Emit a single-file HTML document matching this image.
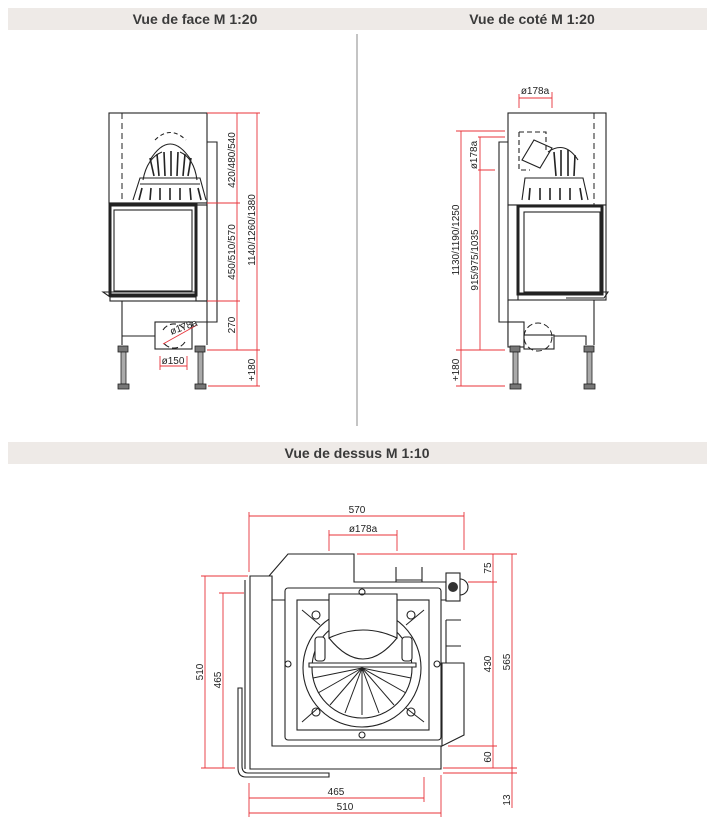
<!DOCTYPE html>
<html><head><meta charset="utf-8"><style>
html,body{margin:0;padding:0;background:#fff;width:715px;height:828px;overflow:hidden}
svg{display:block}
.t{font-family:"Liberation Sans",sans-serif;font-weight:bold;font-size:14px;fill:#3a3a3a}
.d{font-family:"Liberation Sans",sans-serif;font-size:10px;fill:#222}
.k{stroke:#222;stroke-width:1.1;fill:none}
.kw{stroke:#222;stroke-width:1.1;fill:#fff}
.r{stroke:#e8333a;stroke-width:0.9;fill:none}
</style></head><body>
<svg width="715" height="828" viewBox="0 0 715 828" xmlns="http://www.w3.org/2000/svg">
<rect x="8" y="8" width="699" height="22" fill="#eeeae7"/>
<text class="t" x="195" y="24" text-anchor="middle">Vue de face M 1:20</text>
<text class="t" x="532" y="24" text-anchor="middle">Vue de coté M 1:20</text>
<line x1="357" y1="34" x2="357" y2="426" stroke="#888" stroke-width="1"/>
<rect x="8" y="442" width="699" height="22" fill="#eeeae7"/>
<text class="t" x="357" y="458" text-anchor="middle">Vue de dessus M 1:10</text>

<!-- FRONT VIEW -->
<g>
<rect class="k" x="109" y="113" width="98" height="90"/>
<line x1="122" y1="113" x2="122" y2="203" stroke="#222" stroke-dasharray="6,4"/>
<g class="k" stroke-width="1.2">
<path d="M150 160 Q170 128 191 160"/>
<path d="M155 140 Q170 125 186 140" stroke-dasharray="4,3"/>
<path d="M143 180 Q147 158 162 152 M197 180 Q194 158 180 152"/>
<path d="M133 200 L140 178 L200 178 L206 200"/>
<path d="M140 184 L200 184"/>
</g>
<g stroke="#222" stroke-width="1.6">
<line x1="150" y1="158" x2="154" y2="176"/><line x1="157" y1="154" x2="159" y2="176"/><line x1="164" y1="152" x2="165" y2="176"/><line x1="171" y1="151" x2="171" y2="176"/><line x1="178" y1="152" x2="177" y2="176"/><line x1="185" y1="154" x2="183" y2="176"/><line x1="191" y1="158" x2="188" y2="176"/>
<line x1="142" y1="188" x2="139" y2="200"/><line x1="151" y1="188" x2="150" y2="200"/><line x1="160" y1="188" x2="160" y2="200"/><line x1="170" y1="188" x2="170" y2="200"/><line x1="180" y1="188" x2="180" y2="200"/><line x1="190" y1="188" x2="191" y2="200"/><line x1="198" y1="188" x2="201" y2="200"/>
</g>
<rect class="kw" x="110" y="203" width="97" height="98"/>
<rect x="110" y="205" width="86" height="90" fill="none" stroke="#222" stroke-width="3"/>
<rect class="k" x="114" y="210" width="78" height="81"/>
<rect class="k" x="196" y="205" width="11" height="96"/>
<path class="k" d="M103 292 L196 292 L196 297 L110 297 Z"/>
<path class="k" d="M207 142 L217 142 L217 322 L196 322"/>
<path class="k" d="M122 301 L122 345 M207 301 L207 345"/>
<path class="k" d="M122 336 L155 336"/>
<rect class="kw" x="155" y="322" width="37" height="27"/>
<path class="k" d="M163 330 A13 13 0 0 1 185 330 M185 342 A13 13 0 0 1 163 342" stroke-dasharray="6,3"/>
<line class="r" x1="163" y1="344" x2="197" y2="325"/>
<text class="d" x="170" y="333" transform="rotate(-20 176 330)">ø178a</text>
<g fill="#777" stroke="#222" stroke-width="0.8">
<rect x="118" y="346" width="10" height="6"/><rect x="121" y="352" width="5" height="32" fill="#aaa"/><rect x="118" y="384" width="11" height="5"/>
<rect x="195" y="346" width="10" height="6"/><rect x="198" y="352" width="5" height="32" fill="#aaa"/><rect x="195" y="384" width="11" height="5"/>
</g>
<path class="r" d="M160 356 L160 370 M187 356 L187 370 M160 366 L187 366"/>
<text class="d" x="173" y="364" text-anchor="middle">ø150</text>
<path class="r" d="M207 113 L260 113 M207 203 L240 203 M207 301 L240 301 M207 350 L260 350 M208 386 L260 386 M237 113 L237 350 M257 113 L257 386"/>
<text class="d" transform="translate(235 160) rotate(-90)" text-anchor="middle">420/480/540</text>
<text class="d" transform="translate(235 252) rotate(-90)" text-anchor="middle">450/510/570</text>
<text class="d" transform="translate(235 325) rotate(-90)" text-anchor="middle">270</text>
<text class="d" transform="translate(255 230) rotate(-90)" text-anchor="middle">1140/1260/1380</text>
<text class="d" transform="translate(255 370) rotate(-90)" text-anchor="middle">+180</text>
</g>

<!-- SIDE VIEW -->
<g>
<rect class="k" x="508" y="113" width="98" height="92"/>
<line x1="594" y1="113" x2="594" y2="205" stroke="#222" stroke-dasharray="6,4"/>
<path class="k" d="M519 132 L546 132 L546 150 M519 132 L519 170 L530 170" stroke-dasharray="5,3"/>
<path class="k" d="M534 140 L552 148 L540 168 L522 160 Z"/>
<g class="k" stroke-width="1.2">
<path d="M548 152 Q565 140 578 160"/>
<path d="M522 200 L525 178 L583 178 L588 200"/>
</g>
<g stroke="#222" stroke-width="1.6">
<line x1="554" y1="152" x2="556" y2="176"/><line x1="561" y1="150" x2="561" y2="176"/><line x1="568" y1="150" x2="568" y2="176"/><line x1="575" y1="155" x2="574" y2="176"/>
<line x1="530" y1="188" x2="529" y2="200"/><line x1="540" y1="188" x2="540" y2="200"/><line x1="550" y1="188" x2="550" y2="200"/><line x1="560" y1="188" x2="560" y2="200"/><line x1="570" y1="188" x2="570" y2="200"/><line x1="580" y1="188" x2="582" y2="200"/>
</g>
<rect class="kw" x="508" y="205" width="98" height="95"/>
<rect x="518" y="206" width="84" height="88" fill="none" stroke="#222" stroke-width="3"/>
<rect class="k" x="524" y="212" width="76" height="80"/>
<path class="k" d="M508 205 L518 205 L518 300"/>
<path class="k" d="M566 292 L608 292 L604 298 L566 298"/>
<path class="k" d="M508 142 L499 142 L499 322 L508 322"/>
<path class="k" d="M508 300 L508 345 M594 300 L594 345"/>
<rect class="kw" x="508" y="322" width="16" height="25"/>
<rect class="kw" x="524" y="335" width="30" height="14"/>
<circle cx="538" cy="337" r="14" fill="none" stroke="#222" stroke-dasharray="6,3"/>
<path class="k" d="M554 336 L586 336 L586 345"/>
<g fill="#777" stroke="#222" stroke-width="0.8">
<rect x="510" y="346" width="10" height="6"/><rect x="513" y="352" width="5" height="32" fill="#aaa"/><rect x="510" y="384" width="11" height="5"/>
<rect x="584" y="346" width="10" height="6"/><rect x="587" y="352" width="5" height="32" fill="#aaa"/><rect x="584" y="384" width="11" height="5"/>
</g>
<path class="r" d="M519 94 L519 108 M552 92 L552 108 M519 98 L552 98"/>
<text class="d" x="535" y="94" text-anchor="middle">ø178a</text>
<path class="r" d="M456 131 L505 131 M478 137 L505 137 M478 170 L495 170 M456 350 L505 350 M478 350 L478 350 M456 386 L505 386 M461 131 L461 386 M480 137 L480 350"/>
<text class="d" transform="translate(477 155) rotate(-90)" text-anchor="middle">ø178a</text>
<text class="d" transform="translate(459 240) rotate(-90)" text-anchor="middle">1130/1190/1250</text>
<text class="d" transform="translate(478 260) rotate(-90)" text-anchor="middle">915/975/1035</text>
<text class="d" transform="translate(459 370) rotate(-90)" text-anchor="middle">+180</text>
</g>

<!-- TOP VIEW -->
<g>
<path class="r" d="M249 516 L464 516 M249 512 L249 572 M464 512 L464 550 M329 535 L397 535 M329 530 L329 551 M397 530 L397 551"/>
<text class="d" x="357" y="513" text-anchor="middle">570</text>
<text class="d" x="363" y="532" text-anchor="middle">ø178a</text>
<!-- hood -->
<path class="kw" d="M269 576 L288 554 L354 554 L354 582 L446 582 L446 600 L272 600 L272 576 Z"/>
<!-- main L frame -->
<path class="kw" d="M250 576 L272 576 L272 746 L441 746 L441 769 L250 769 Z"/>
<path class="k" d="M245 580 L245 769"/>
<rect class="kw" x="285" y="588" width="156" height="152" rx="3"/>
<rect class="k" x="297" y="600" width="132" height="130"/>
<circle class="k" cx="362" cy="668" r="59"/>
<circle class="k" cx="362" cy="668" r="50"/>
<g stroke="#222" stroke-width="1">
<line x1="362" y1="668" x2="362" y2="715"/><line x1="362" y1="668" x2="345" y2="713"/><line x1="362" y1="668" x2="379" y2="713"/><line x1="362" y1="668" x2="330" y2="705"/><line x1="362" y1="668" x2="394" y2="705"/><line x1="362" y1="668" x2="318" y2="693"/><line x1="362" y1="668" x2="406" y2="693"/><line x1="362" y1="668" x2="313" y2="678"/><line x1="362" y1="668" x2="411" y2="678"/>
<line x1="302" y1="610" x2="320" y2="625"/><line x1="424" y1="610" x2="406" y2="625"/><line x1="302" y1="722" x2="318" y2="708"/><line x1="424" y1="722" x2="406" y2="708"/>
</g>
<path class="kw" d="M309 663 L416 663 L416 667 L309 667 Z"/>
<path class="kw" d="M329 594 L397 594 L397 638 Q363 622 329 638 Z"/>
<path class="k" d="M329 638 Q363 680 397 638"/>
<rect class="kw" x="315" y="637" width="10" height="24" rx="3"/>
<rect class="kw" x="402" y="637" width="10" height="24" rx="3"/>
<g class="k"><circle cx="316" cy="615" r="4"/><circle cx="411" cy="615" r="4"/><circle cx="316" cy="712" r="4"/><circle cx="411" cy="712" r="4"/>
<circle cx="362" cy="592" r="3"/><circle cx="362" cy="735" r="3"/><circle cx="288" cy="664" r="3"/><circle cx="437" cy="664" r="3"/></g>
<!-- right parts -->
<path class="kw" d="M442 663 L464 663 L464 735 L442 746 Z"/>
<path class="k" d="M396 567 L396 582 M422 567 L422 582 M396 580 L422 580"/>
<path class="k" d="M446 620 L461 620 M446 646 L461 646 M446 620 L446 663"/>
<rect class="kw" x="446" y="573" width="14" height="28"/>
<circle cx="453" cy="587" r="5" fill="#333"/>
<path class="k" d="M460 579 A8 8 0 0 1 460 595"/>
<!-- rod -->
<path class="k" d="M238 688 L238 768 Q238 777 246 777 L329 777 L329 773 L248 773 Q242 773 242 766 L242 688 Z"/>
<!-- dims right -->
<path class="r" d="M357 554 L517 554 M468 582 L497 582 M448 746 L497 746 M443 768 L517 768 M443 773 L517 773 M493 554 L493 768 M512 554 L512 808"/>
<text class="d" transform="translate(491 568) rotate(-90)" text-anchor="middle">75</text>
<text class="d" transform="translate(491 664) rotate(-90)" text-anchor="middle">430</text>
<text class="d" transform="translate(491 757) rotate(-90)" text-anchor="middle">60</text>
<text class="d" transform="translate(510 662) rotate(-90)" text-anchor="middle">565</text>
<text class="d" transform="translate(510 800) rotate(-90)" text-anchor="middle">13</text>
<!-- dims left -->
<path class="r" d="M201 576 L248 576 M219 593 L244 593 M201 768 L235 768 M205 576 L205 768 M223 593 L223 768"/>
<text class="d" transform="translate(203 672) rotate(-90)" text-anchor="middle">510</text>
<text class="d" transform="translate(221 680) rotate(-90)" text-anchor="middle">465</text>
<!-- dims bottom -->
<path class="r" d="M249 783 L249 817 M424 777 L424 802 M441 775 L441 817 M249 798 L424 798 M249 813 L441 813"/>
<text class="d" x="336" y="795" text-anchor="middle">465</text>
<text class="d" x="345" y="810" text-anchor="middle">510</text>
</g>
</svg>
</body></html>
